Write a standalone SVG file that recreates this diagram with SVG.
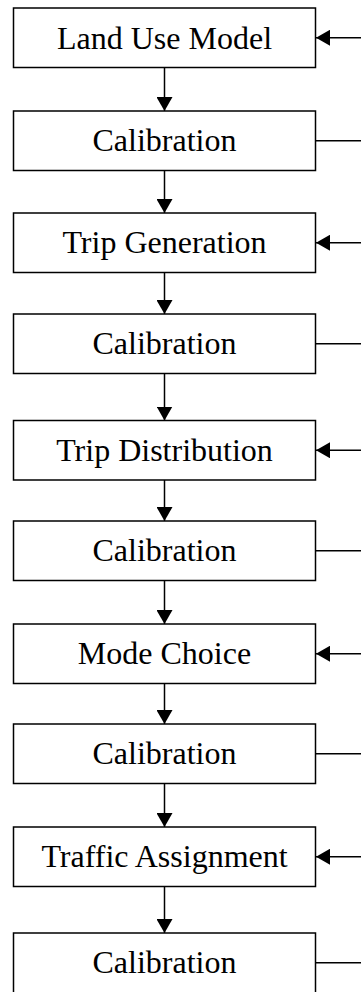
<svg xmlns="http://www.w3.org/2000/svg" width="361" height="992" viewBox="0 0 361 992">
<style>
.box{fill:#fff;stroke:#000;stroke-width:1.5}
.lbl{font-family:"Liberation Serif","Times New Roman",serif;font-size:32px;text-anchor:middle;fill:#000}
.c{stroke:#000;stroke-width:1.5;fill:none}
</style>
<defs>
<marker id="ah" viewBox="0 0 14 16" refX="14" refY="8" markerWidth="14" markerHeight="16" markerUnits="userSpaceOnUse" orient="auto">
<path d="M0,0 L14,8 L0,16 Z" fill="#000"/>
</marker>
</defs>
<g id="connectors">
<line class="c" x1="164.5" y1="67.5" x2="164.5" y2="111" marker-end="url(#ah)"/>
<line class="c" x1="164.5" y1="170.5" x2="164.5" y2="213" marker-end="url(#ah)"/>
<line class="c" x1="164.5" y1="272.5" x2="164.5" y2="314" marker-end="url(#ah)"/>
<line class="c" x1="164.5" y1="373.5" x2="164.5" y2="420.5" marker-end="url(#ah)"/>
<line class="c" x1="164.5" y1="480" x2="164.5" y2="521" marker-end="url(#ah)"/>
<line class="c" x1="164.5" y1="580.5" x2="164.5" y2="624" marker-end="url(#ah)"/>
<line class="c" x1="164.5" y1="683.5" x2="164.5" y2="724" marker-end="url(#ah)"/>
<line class="c" x1="164.5" y1="783.5" x2="164.5" y2="827" marker-end="url(#ah)"/>
<line class="c" x1="164.5" y1="886.5" x2="164.5" y2="933" marker-end="url(#ah)"/>
<line class="c" x1="361" y1="37.75" x2="316" y2="37.75" marker-end="url(#ah)"/>
<line class="c" x1="316" y1="140.75" x2="361" y2="140.75"/>
<line class="c" x1="361" y1="242.75" x2="316" y2="242.75" marker-end="url(#ah)"/>
<line class="c" x1="316" y1="343.75" x2="361" y2="343.75"/>
<line class="c" x1="361" y1="450.25" x2="316" y2="450.25" marker-end="url(#ah)"/>
<line class="c" x1="316" y1="550.75" x2="361" y2="550.75"/>
<line class="c" x1="361" y1="653.75" x2="316" y2="653.75" marker-end="url(#ah)"/>
<line class="c" x1="316" y1="753.75" x2="361" y2="753.75"/>
<line class="c" x1="361" y1="856.75" x2="316" y2="856.75" marker-end="url(#ah)"/>
<line class="c" x1="316" y1="962.75" x2="361" y2="962.75"/>
</g>
<g id="n1"><rect class="box" x="13.5" y="8" width="302" height="59.5"/><text class="lbl" x="164.5" y="48.5">Land Use Model</text></g>
<g id="n2"><rect class="box" x="13.5" y="111" width="302" height="59.5"/><text class="lbl" x="164.5" y="151">Calibration</text></g>
<g id="n3"><rect class="box" x="13.5" y="213" width="302" height="59.5"/><text class="lbl" x="164.5" y="253">Trip Generation</text></g>
<g id="n4"><rect class="box" x="13.5" y="314" width="302" height="59.5"/><text class="lbl" x="164.5" y="354">Calibration</text></g>
<g id="n5"><rect class="box" x="13.5" y="420.5" width="302" height="59.5"/><text class="lbl" x="164.5" y="460.5">Trip Distribution</text></g>
<g id="n6"><rect class="box" x="13.5" y="521" width="302" height="59.5"/><text class="lbl" x="164.5" y="561">Calibration</text></g>
<g id="n7"><rect class="box" x="13.5" y="624" width="302" height="59.5"/><text class="lbl" x="164.5" y="664">Mode Choice</text></g>
<g id="n8"><rect class="box" x="13.5" y="724" width="302" height="59.5"/><text class="lbl" x="164.5" y="764">Calibration</text></g>
<g id="n9"><rect class="box" x="13.5" y="827" width="302" height="59.5"/><text class="lbl" x="164.5" y="867">Traffic Assignment</text></g>
<g id="n10"><rect class="box" x="13.5" y="933" width="302" height="62"/><text class="lbl" x="164.5" y="973">Calibration</text></g>
</svg>
